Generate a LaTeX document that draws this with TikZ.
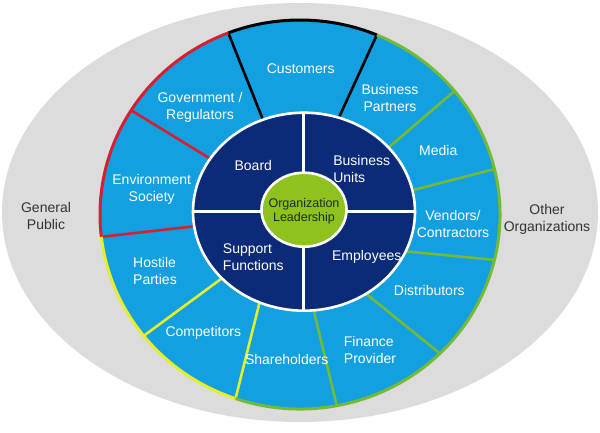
\documentclass[tikz,border=0pt]{standalone}
\usepackage{fontspec}
\setmainfont{Liberation Sans}
\usepackage{tikz}
\usetikzlibrary{calc}
\definecolor{ringblue}{HTML}{12A0E0}
\definecolor{darknavy}{HTML}{0B2A78}
\definecolor{leadgreen}{HTML}{8DC21F}
\definecolor{bggrey}{HTML}{DCDCDC}
\definecolor{edgered}{HTML}{D42030}
\definecolor{edgeyellow}{HTML}{E4EE2A}
\definecolor{edgegreen}{HTML}{74BA34}
\definecolor{leadtext}{HTML}{1C2C24}
\tikzset{
	lbl/.style={text=white,align=center,font=\fontsize{14}{17}\selectfont},
	outlbl/.style={text=black!80,align=center,font=\fontsize{14}{17}\selectfont},
	divider/.style={line width=2.6pt}
}
\begin{document}
\begin{tikzpicture}[x=1pt,y=1pt]
		\useasboundingbox (0,0) rectangle (600,432);
		\fill[white] (0,0) rectangle (600,432);
		% grey field and blue ring
		\fill[bggrey] (300,219.5) ellipse [x radius=298, y radius=209.5];
		\fill[ringblue] (300,217.5) ellipse [x radius=200, y radius=194.5];
		% segment dividers: outer angle / inner angle / colour
		\foreach \ta/\tb/\col in {111/111.7/black,67.4/71.7/black,147.6/147.6/edgered,186.6/188.5/edgered,218.6/222.3/edgeyellow,251.2/246.4/edgeyellow,280.6/275/edgegreen,314.4/304/edgegreen,346.5/336.4/edgegreen,13.5/12.5/edgegreen,39.4/40.4/edgegreen}
			\draw[divider,\col] ($(300,217.5)+(\ta:200 and 194.5)$) -- ($(304,220.3)+(\tb:111 and 99)$);
		% coloured rim
		\draw[line width=3pt,black] (300,217.5) ++(111:200 and 194.5) arc[start angle=111,end angle=67.4,x radius=200,y radius=194.5];
		\draw[line width=3pt,edgered] (300,217.5) ++(111:200 and 194.5) arc[start angle=111,end angle=186.6,x radius=200,y radius=194.5];
		\draw[line width=3pt,edgeyellow] (300,217.5) ++(186.6:200 and 194.5) arc[start angle=186.6,end angle=251.2,x radius=200,y radius=194.5];
		\draw[line width=3pt,edgegreen] (300,217.5) ++(251.2:200 and 194.5) arc[start angle=251.2,end angle=427.4,x radius=200,y radius=194.5];
		% inner quadrants
		\filldraw[fill=darknavy,draw=white,line width=2.6pt] (304,220.3) ellipse [x radius=111, y radius=99];
		\draw[white,line width=3pt] (303,121.3) -- (303,319.3);
		\draw[white,line width=3pt] (193,220.3) -- (415,220.3);
		\filldraw[fill=leadgreen,draw=white,line width=2.6pt] (304,222.3) ellipse [x radius=42.5, y radius=37];
		% labels
		\node[lbl] (cust) at (300.7,363) {Customers};
		\node[lbl] (gov) at (200,324.7) {Government /\\Regulators};
		\node[lbl] (bp) at (390,333.7) {Business\\Partners};
		\node[lbl] (media) at (438.3,281.3) {Media};
		\node[lbl] (env) at (151.7,242.7) {Environment\\Society};
		\node[lbl] (vend) at (453,208) {Vendors/\\Contractors};
		\node[lbl,align=left] (host) at (155,161.3) {Hostile\\Parties};
		\node[lbl] (dist) at (429.3,141.3) {Distributors};
		\node[lbl] (comp) at (203.3,98.7) {Competitors};
		\node[lbl] (share) at (286.7,73) {Shareholders};
		\node[lbl,align=left] (fin) at (370,82) {Finance\\Provider};
		\node[lbl] (board) at (253.3,266.3) {Board};
		\node[lbl,align=left] (bunits) at (361.7,263) {Business\\Units};
		\node[lbl,align=left] (supp) at (253.3,175.3) {Support\\Functions};
		\node[lbl] (empl) at (366.7,175.3) {Employees};
		\node[lbl,text=leadtext,font=\fontsize{12.5}{14.5}\selectfont] (lead) at (304,220.8) {Organization\\Leadership};
		\node[outlbl] (genpub) at (46,216) {General\\Public};
		\node[outlbl] (otherorg) at (547,213) {Other\\Organizations};
	\end{tikzpicture}
\end{document}
